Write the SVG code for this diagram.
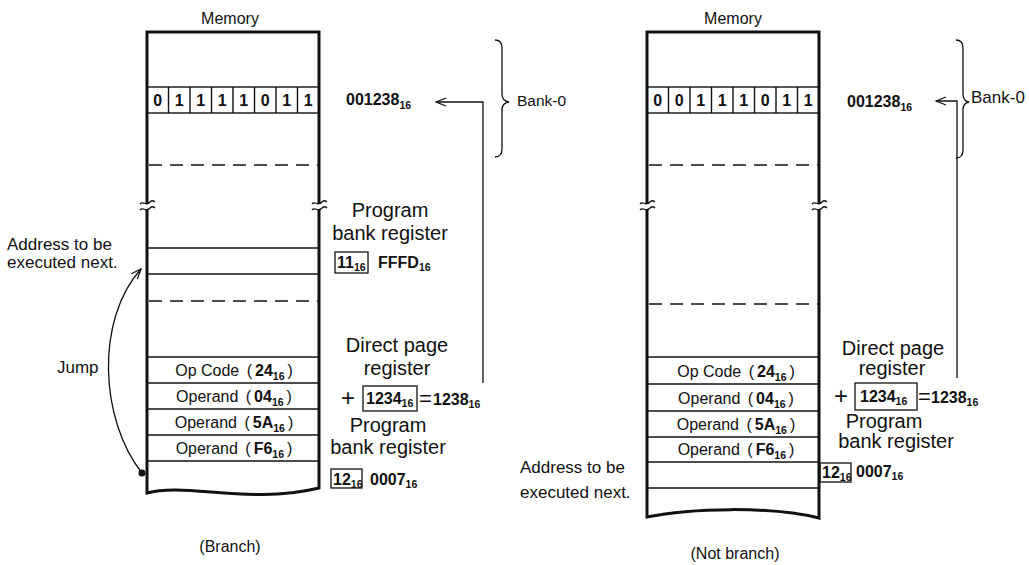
<svg xmlns="http://www.w3.org/2000/svg" width="1029" height="565" viewBox="0 0 1029 565">
<style>
text{font-family:"Liberation Sans",Arial,sans-serif;fill:#111}
.t16{font-size:16px}
.t17{font-size:17px}
.t20{font-size:20px}
.b{font-weight:bold;font-size:16px}
.s{font-size:10.5px;font-weight:bold}
.wall{fill:none;stroke:#111;stroke-width:3}
.ln{stroke:#111;stroke-width:1.4;fill:none}
.dash{stroke:#111;stroke-width:1.4;stroke-dasharray:13 8;fill:none}
.box{fill:none;stroke:#111;stroke-width:1.3}
.thin{stroke:#111;stroke-width:1.3;fill:none}
</style>
<defs>
<marker id="ah" markerWidth="12" markerHeight="10" refX="11" refY="5" orient="auto" markerUnits="userSpaceOnUse">
<path d="M1,1 L11,5 L1,9" fill="none" stroke="#111" stroke-width="1.3"/>
</marker>
</defs>

<!-- LEFT MEMORY (Branch) -->
<g id="memory-left">
<text class="t16" x="230" y="24" text-anchor="middle">Memory</text>
<path class="wall" d="M147,203 L147,32 L319,32 L319,203"/>
<path class="wall" d="M147,209 L147,493 C185,482 250,505 319,488 L319,209"/>
<path class="thin" d="M140,204 C143,200 146,207 150,202 C152,200 154,201 155,202"/>
<path class="thin" d="M140,210 C143,206 146,213 150,208 C152,206 154,207 155,208"/>
<path class="thin" d="M312,204 C315,200 318,207 322,202 C324,200 326,201 327,202"/>
<path class="thin" d="M312,210 C315,206 318,213 322,208 C324,206 326,207 327,208"/>
<rect x="147" y="87" width="172" height="26" class="ln"/>
<g class="ln">
<line x1="168.5" y1="87" x2="168.5" y2="113"/><line x1="190" y1="87" x2="190" y2="113"/>
<line x1="211.5" y1="87" x2="211.5" y2="113"/><line x1="233" y1="87" x2="233" y2="113"/>
<line x1="254.5" y1="87" x2="254.5" y2="113"/><line x1="276" y1="87" x2="276" y2="113"/>
<line x1="297.5" y1="87" x2="297.5" y2="113"/>
</g>
<g text-anchor="middle">
<text class="b" x="157.7" y="106">0</text><text class="b" x="179.2" y="106">1</text>
<text class="b" x="200.7" y="106">1</text><text class="b" x="222.2" y="106">1</text>
<text class="b" x="243.7" y="106">1</text><text class="b" x="265.2" y="106">0</text>
<text class="b" x="286.7" y="106">1</text><text class="b" x="308.2" y="106">1</text>
</g>
<line class="dash" x1="149" y1="165" x2="318" y2="165"/>
<line class="ln" x1="147" y1="248" x2="319" y2="248"/>
<line class="ln" x1="147" y1="274" x2="319" y2="274"/>
<line class="dash" x1="149" y1="301" x2="318" y2="301"/>
<line class="ln" x1="147" y1="357" x2="319" y2="357"/>
<line class="ln" x1="147" y1="383" x2="319" y2="383"/>
<line class="ln" x1="147" y1="409" x2="319" y2="409"/>
<line class="ln" x1="147" y1="435" x2="319" y2="435"/>
<line class="ln" x1="147" y1="461" x2="319" y2="461"/>
<text class="t16" x="234" y="376" text-anchor="middle">Op Code <tspan dx="3">(</tspan><tspan dx="3" font-weight="bold">24</tspan><tspan class="s" dy="4">16</tspan><tspan dy="-4" dx="3">)</tspan></text>
<text class="t16" x="234" y="402" text-anchor="middle">Operand <tspan dx="3">(</tspan><tspan dx="3" font-weight="bold">04</tspan><tspan class="s" dy="4">16</tspan><tspan dy="-4" dx="3">)</tspan></text>
<text class="t16" x="234" y="428" text-anchor="middle">Operand <tspan dx="3">(</tspan><tspan dx="3" font-weight="bold">5A</tspan><tspan class="s" dy="4">16</tspan><tspan dy="-4" dx="3">)</tspan></text>
<text class="t16" x="234" y="454" text-anchor="middle">Operand <tspan dx="3">(</tspan><tspan dx="3" font-weight="bold">F6</tspan><tspan class="s" dy="4">16</tspan><tspan dy="-4" dx="3">)</tspan></text>
<text class="t16" x="230" y="552" text-anchor="middle">(Branch)</text>
</g>

<g id="labels-left">
<text class="t17" x="7" y="250">Address to be</text>
<text class="t17" x="7" y="268">executed next.</text>
<text class="t17" x="57" y="373">Jump</text>
<circle cx="142" cy="473" r="3.5" fill="#111"/>
<text class="b" x="346" y="105">001238<tspan class="s" dy="4">16</tspan></text>
<path class="thin" d="M495,40 Q502,40 502,48 L502,94 Q502,101 509,102 Q502,103 502,110 L502,149 Q502,157 495,157"/>
<text font-size="15.5" x="517" y="106">Bank-0</text>
<text class="t20" x="390" y="217" text-anchor="middle">Program</text>
<text class="t20" x="390" y="240" text-anchor="middle">bank register</text>
<rect class="box" x="335" y="252" width="33" height="21"/>
<text class="b" x="337" y="268">11<tspan class="s" dy="3">16</tspan></text>
<text class="b" x="378" y="268">FFFD<tspan class="s" dy="3">16</tspan></text>
<text class="t20" x="397" y="352" text-anchor="middle">Direct page</text>
<text class="t20" x="397" y="375" text-anchor="middle">register</text>
<text font-size="24" x="348" y="406" text-anchor="middle">+</text>
<rect class="box" x="363" y="386" width="54" height="25"/>
<text class="b" x="366" y="404">1234<tspan class="s" dy="3">16</tspan></text>
<text font-size="22" x="419" y="406">=</text>
<text class="b" x="433" y="405">1238<tspan class="s" dy="3">16</tspan></text>
<text class="t20" x="388" y="432" text-anchor="middle">Program</text>
<text class="t20" x="388" y="454" text-anchor="middle">bank register</text>
<rect class="box" x="331" y="469" width="31" height="19"/>
<text class="b" x="333" y="485">12<tspan class="s" dy="3">16</tspan></text>
<text class="b" x="370" y="485">0007<tspan class="s" dy="3">16</tspan></text>
</g>

<!-- RIGHT MEMORY (Not branch) -->
<g id="memory-right">
<text class="t16" x="733" y="24" text-anchor="middle">Memory</text>
<path class="wall" d="M647,203 L647,32 L819,32 L819,203"/>
<path class="wall" d="M647,209 L647,517 C690,508 770,506 819,518 L819,209"/>
<path class="thin" d="M640,204 C643,200 646,207 650,202 C652,200 654,201 655,202"/>
<path class="thin" d="M640,210 C643,206 646,213 650,208 C652,206 654,207 655,208"/>
<path class="thin" d="M812,204 C815,200 818,207 822,202 C824,200 826,201 827,202"/>
<path class="thin" d="M812,210 C815,206 818,213 822,208 C824,206 826,207 827,208"/>
<rect x="647" y="87" width="172" height="26" class="ln"/>
<g class="ln">
<line x1="668.5" y1="87" x2="668.5" y2="113"/><line x1="690" y1="87" x2="690" y2="113"/>
<line x1="711.5" y1="87" x2="711.5" y2="113"/><line x1="733" y1="87" x2="733" y2="113"/>
<line x1="754.5" y1="87" x2="754.5" y2="113"/><line x1="776" y1="87" x2="776" y2="113"/>
<line x1="797.5" y1="87" x2="797.5" y2="113"/>
</g>
<g text-anchor="middle">
<text class="b" x="657.7" y="106">0</text><text class="b" x="679.2" y="106">0</text>
<text class="b" x="700.7" y="106">1</text><text class="b" x="722.2" y="106">1</text>
<text class="b" x="743.7" y="106">1</text><text class="b" x="765.2" y="106">0</text>
<text class="b" x="786.7" y="106">1</text><text class="b" x="808.2" y="106">1</text>
</g>
<line class="dash" x1="649" y1="165" x2="818" y2="165"/>
<line class="dash" x1="649" y1="304" x2="818" y2="304"/>
<line class="ln" x1="647" y1="357" x2="819" y2="357"/>
<line class="ln" x1="647" y1="384" x2="819" y2="384"/>
<line class="ln" x1="647" y1="411" x2="819" y2="411"/>
<line class="ln" x1="647" y1="437" x2="819" y2="437"/>
<line class="ln" x1="647" y1="462" x2="819" y2="462"/>
<line class="ln" x1="647" y1="488" x2="819" y2="488"/>
<text class="t16" x="736" y="377" text-anchor="middle">Op Code <tspan dx="3">(</tspan><tspan dx="3" font-weight="bold">24</tspan><tspan class="s" dy="4">16</tspan><tspan dy="-4" dx="3">)</tspan></text>
<text class="t16" x="736" y="404" text-anchor="middle">Operand <tspan dx="3">(</tspan><tspan dx="3" font-weight="bold">04</tspan><tspan class="s" dy="4">16</tspan><tspan dy="-4" dx="3">)</tspan></text>
<text class="t16" x="736" y="430" text-anchor="middle">Operand <tspan dx="3">(</tspan><tspan dx="3" font-weight="bold">5A</tspan><tspan class="s" dy="4">16</tspan><tspan dy="-4" dx="3">)</tspan></text>
<text class="t16" x="736" y="455" text-anchor="middle">Operand <tspan dx="3">(</tspan><tspan dx="3" font-weight="bold">F6</tspan><tspan class="s" dy="4">16</tspan><tspan dy="-4" dx="3">)</tspan></text>
<text class="t16" x="735" y="559" text-anchor="middle">(Not branch)</text>
</g>

<g id="labels-right">
<text class="t17" x="520" y="473">Address to be</text>
<text class="t17" x="520" y="498">executed next.</text>
<text class="b" x="847" y="107">001238<tspan class="s" dy="4">16</tspan></text>
<path class="thin" d="M956,40 Q963,40 963,48 L963,94 Q963,101 969,102 Q963,103 963,110 L963,150 Q963,158 956,158"/>
<text font-size="17" x="971" y="103">Bank-0</text>
<text class="t20" x="893" y="355" text-anchor="middle">Direct page</text>
<text class="t20" x="892" y="375" text-anchor="middle">register</text>
<text font-size="24" x="841" y="404" text-anchor="middle">+</text>
<rect class="box" x="855" y="383" width="62" height="27"/>
<text class="b" x="860" y="402">1234<tspan class="s" dy="3">16</tspan></text>
<text font-size="22" x="918" y="404">=</text>
<text class="b" x="931" y="403">1238<tspan class="s" dy="3">16</tspan></text>
<text class="t20" x="884" y="428" text-anchor="middle">Program</text>
<text class="t20" x="896" y="448" text-anchor="middle">bank register</text>
<rect class="box" x="820" y="463" width="31" height="19"/>
<text class="b" x="822" y="478">12<tspan class="s" dy="3">16</tspan></text>
<text class="b" x="856" y="477">0007<tspan class="s" dy="3">16</tspan></text>
</g>

<g id="connectors">
<path class="thin" d="M142,473 C100,420 95,320 141,269" marker-end="url(#ah)"/>
<path class="thin" d="M483,383 L483,102 L436,102" marker-end="url(#ah)"/>
<path class="thin" d="M957,378 L957,101 L936,101" marker-end="url(#ah)"/>
</g>
</svg>
